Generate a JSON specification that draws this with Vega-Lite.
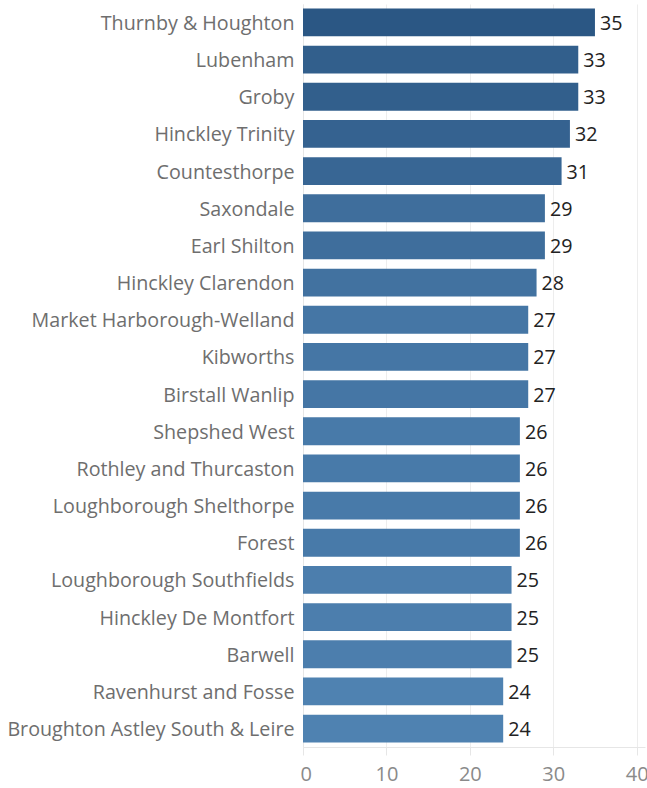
{
  "$schema": "https://vega.github.io/schema/vega-lite/v6.json",
  "autosize": {"type": "none"},
  "padding": {"left": 303, "top": 4, "right": 2, "bottom": 41},
  "width": 342,
  "height": 743,
  "background": "white",
  "config": {
    "view": {"stroke": null},
    "font": "Open Sans"
  },
  "data": {
    "values": [
      {"ward": "Thurnby & Houghton", "value": 35},
      {"ward": "Lubenham", "value": 33},
      {"ward": "Groby", "value": 33},
      {"ward": "Hinckley Trinity", "value": 32},
      {"ward": "Countesthorpe", "value": 31},
      {"ward": "Saxondale", "value": 29},
      {"ward": "Earl Shilton", "value": 29},
      {"ward": "Hinckley Clarendon", "value": 28},
      {"ward": "Market Harborough-Welland", "value": 27},
      {"ward": "Kibworths", "value": 27},
      {"ward": "Birstall Wanlip", "value": 27},
      {"ward": "Shepshed West", "value": 26},
      {"ward": "Rothley and Thurcaston", "value": 26},
      {"ward": "Loughborough Shelthorpe", "value": 26},
      {"ward": "Forest", "value": 26},
      {"ward": "Loughborough Southfields", "value": 25},
      {"ward": "Hinckley De Montfort", "value": 25},
      {"ward": "Barwell", "value": 25},
      {"ward": "Ravenhurst and Fosse", "value": 24},
      {"ward": "Broughton Astley South & Leire", "value": 24}
    ]
  },
  "encoding": {
    "y": {
      "field": "ward",
      "type": "nominal",
      "sort": null,
      "scale": {"paddingInner": 0.25, "paddingOuter": 0.12},
      "axis": {
        "title": null,
        "domain": true,
        "domainColor": "#e6e6e6",
        "ticks": false,
        "labelFontSize": 19.7,
        "labelColor": "#6e6e6e",
        "labelPadding": 9,
        "labelLimit": 400,
        "labelOffset": 1.5
      }
    },
    "x": {
      "field": "value",
      "type": "quantitative",
      "scale": {"domain": [0, 41], "nice": false, "zero": true},
      "axis": {
        "title": null,
        "values": [0, 10, 20, 30, 40],
        "grid": true,
        "gridColor": "#ededed",
        "domainColor": "#e6e6e6",
        "tickColor": "#e6e6e6",
        "tickSize": 8,
        "labelFontSize": 20,
        "labelColor": "#8a8a8a",
        "labelPadding": 9,
        "labelFlush": true,
        "labelFlushOffset": 3
      }
    }
  },
  "layer": [
    {
      "mark": {"type": "bar"},
      "encoding": {
        "color": {
          "field": "value",
          "type": "quantitative",
          "scale": {"domain": [24, 35], "range": ["#4f82b1", "#2b5784"]},
          "legend": null
        }
      }
    },
    {
      "mark": {"type": "text", "align": "left", "baseline": "middle", "dx": 5, "dy": 1.5, "fontSize": 19.7, "color": "#222222"},
      "encoding": {
        "text": {"field": "value", "type": "quantitative"}
      }
    }
  ]
}
